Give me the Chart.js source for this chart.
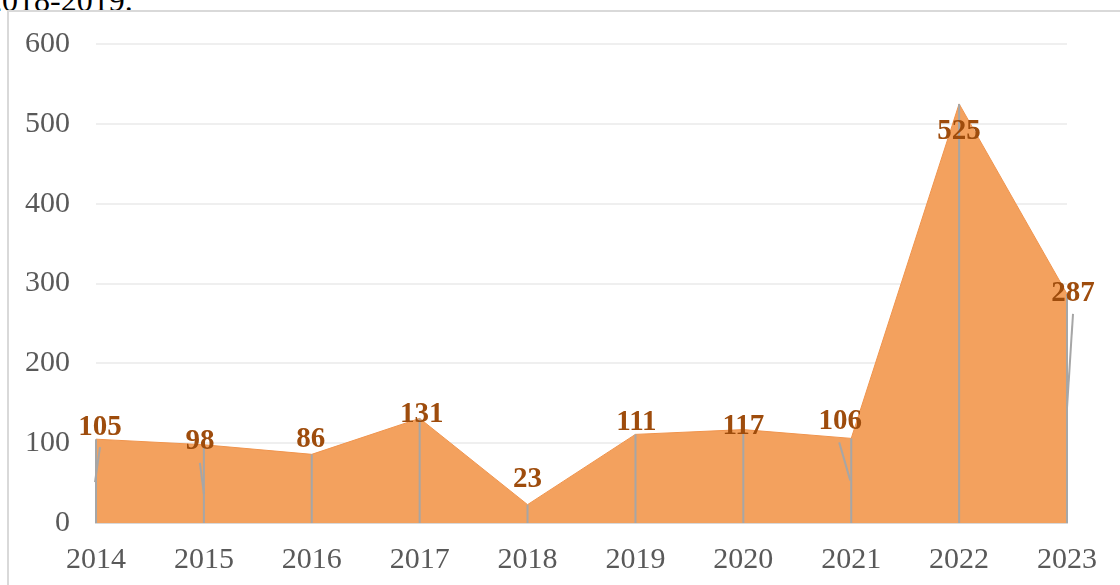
<!DOCTYPE html>
<html>
<head>
<meta charset="utf-8">
<script src="https://cdn.jsdelivr.net/npm/chart.js@4/dist/chart.umd.min.js"></script>
<style>
  html, body { margin: 0; padding: 0; background: #fff; overflow: hidden; }
  #wrap { position: relative; width: 1120px; height: 585px; }
  #caption {
    position: absolute; left: -14px; top: -18px; line-height: 32px;
    font: 32px 'Liberation Serif', 'Times New Roman', serif; color: #000; white-space: nowrap;
  }
  #frame {
    position: absolute; left: 7px; top: 10px; width: 1200px; height: 700px;
    border-left: 2px solid #d9d9d9; border-top: 2px solid #d9d9d9;
  }
  canvas { position: absolute; left: 0; top: 0; }
</style>
</head>
<body>
<div id="wrap">
  <div id="caption">2018-2019.</div>
  <div id="frame"></div>
  <canvas id="chart" width="1120" height="585"></canvas>
</div>
<script>
/* ── 데이터 ─────────────────────────────────────────── */
const years  = ['2014','2015','2016','2017','2018','2019','2020','2021','2022','2023'];
const counts = [105, 98, 86, 131, 23, 111, 117, 106, 525, 287];
const yTicks = [0, 100, 200, 300, 400, 500, 600];

// label nudges (px) relative to each point, as placed in the original
const labelOffsets = [[4,-12],[-4,-3],[-1,-15],[2,-4],[0,-25],[1,-12],[0,-3],[-11,-17],[0,28],[6,0]];
// leader line segments (dx1,dy1,dx2,dy2) relative to the point, null = none
const leaders = [[4,8,-1,43],[-4,18,0,49],null,null,null,null,null,[-12,4,-1,42],null,[6,20,0,114]];

const SERIF = "'Liberation Serif','Times New Roman',serif";

/* ── 수직 드롭라인 + 리더라인 ───────────────────────── */
const dropLines = {
  id: 'dropLines',
  afterDatasetsDraw(chart) {
    const { ctx, scales: { y } } = chart;
    const meta = chart.getDatasetMeta(0);
    const base = y.getPixelForValue(0);
    ctx.save();
    ctx.strokeStyle = '#a6a6a6';
    ctx.lineWidth = 2;
    meta.data.forEach((pt, i) => {
      ctx.beginPath();
      ctx.moveTo(pt.x, pt.y);
      ctx.lineTo(pt.x, base);
      ctx.stroke();
      const l = leaders[i];
      if (l) {
        ctx.beginPath();
        ctx.moveTo(pt.x + l[0], pt.y + l[1]);
        ctx.lineTo(pt.x + l[2], pt.y + l[3]);
        ctx.stroke();
      }
    });
    ctx.restore();
  }
};

/* ── 데이터 라벨 ────────────────────────────────────── */
const valueLabels = {
  id: 'valueLabels',
  afterDraw(chart) {
    const { ctx } = chart;
    const meta = chart.getDatasetMeta(0);
    ctx.save();
    ctx.font = `bold 29px ${SERIF}`;
    ctx.fillStyle = '#9e4c0c';
    ctx.textAlign = 'center';
    ctx.textBaseline = 'middle';
    meta.data.forEach((pt, i) => {
      const [dx, dy] = labelOffsets[i];
      ctx.fillText(String(counts[i]), pt.x + dx, pt.y + dy);
    });
    ctx.restore();
  }
};

new Chart(document.getElementById('chart'), {
  type: 'line',
  data: {
    labels: years,
    datasets: [{
      data: counts,
      fill: 'origin',
      backgroundColor: '#f3a15e',
      borderColor: '#f0944d',
      borderWidth: 1,
      pointRadius: 0,
      tension: 0,
    }],
  },
  options: {
    responsive: false,
    animation: false,
    layout: { padding: { top: 41, right: 53, left: 0, bottom: 0 } },
    plugins: { legend: { display: false }, tooltip: { enabled: false } },
    scales: {
      x: {
        offset: false,
        grid: { display: false, drawTicks: false },
        border: { color: '#d9d9d9', width: 2 },
        ticks: { color: '#595959', font: { family: SERIF, size: 30 }, padding: 19, maxRotation: 0, autoSkip: false },
        afterFit(s) { s.height = 62; },
      },
      y: {
        min: 0, max: 600,
        afterBuildTicks(s) { s.ticks = yTicks.map(v => ({ value: v })); },
        grid: { color: '#efefef', lineWidth: 2, drawTicks: false },
        border: { display: false },
        ticks: { color: '#595959', font: { family: SERIF, size: 30 }, padding: 26 },
        afterFit(s) { s.width = 96; },
      },
    },
  },
  plugins: [dropLines, valueLabels],
});
</script>
</body>
</html>
